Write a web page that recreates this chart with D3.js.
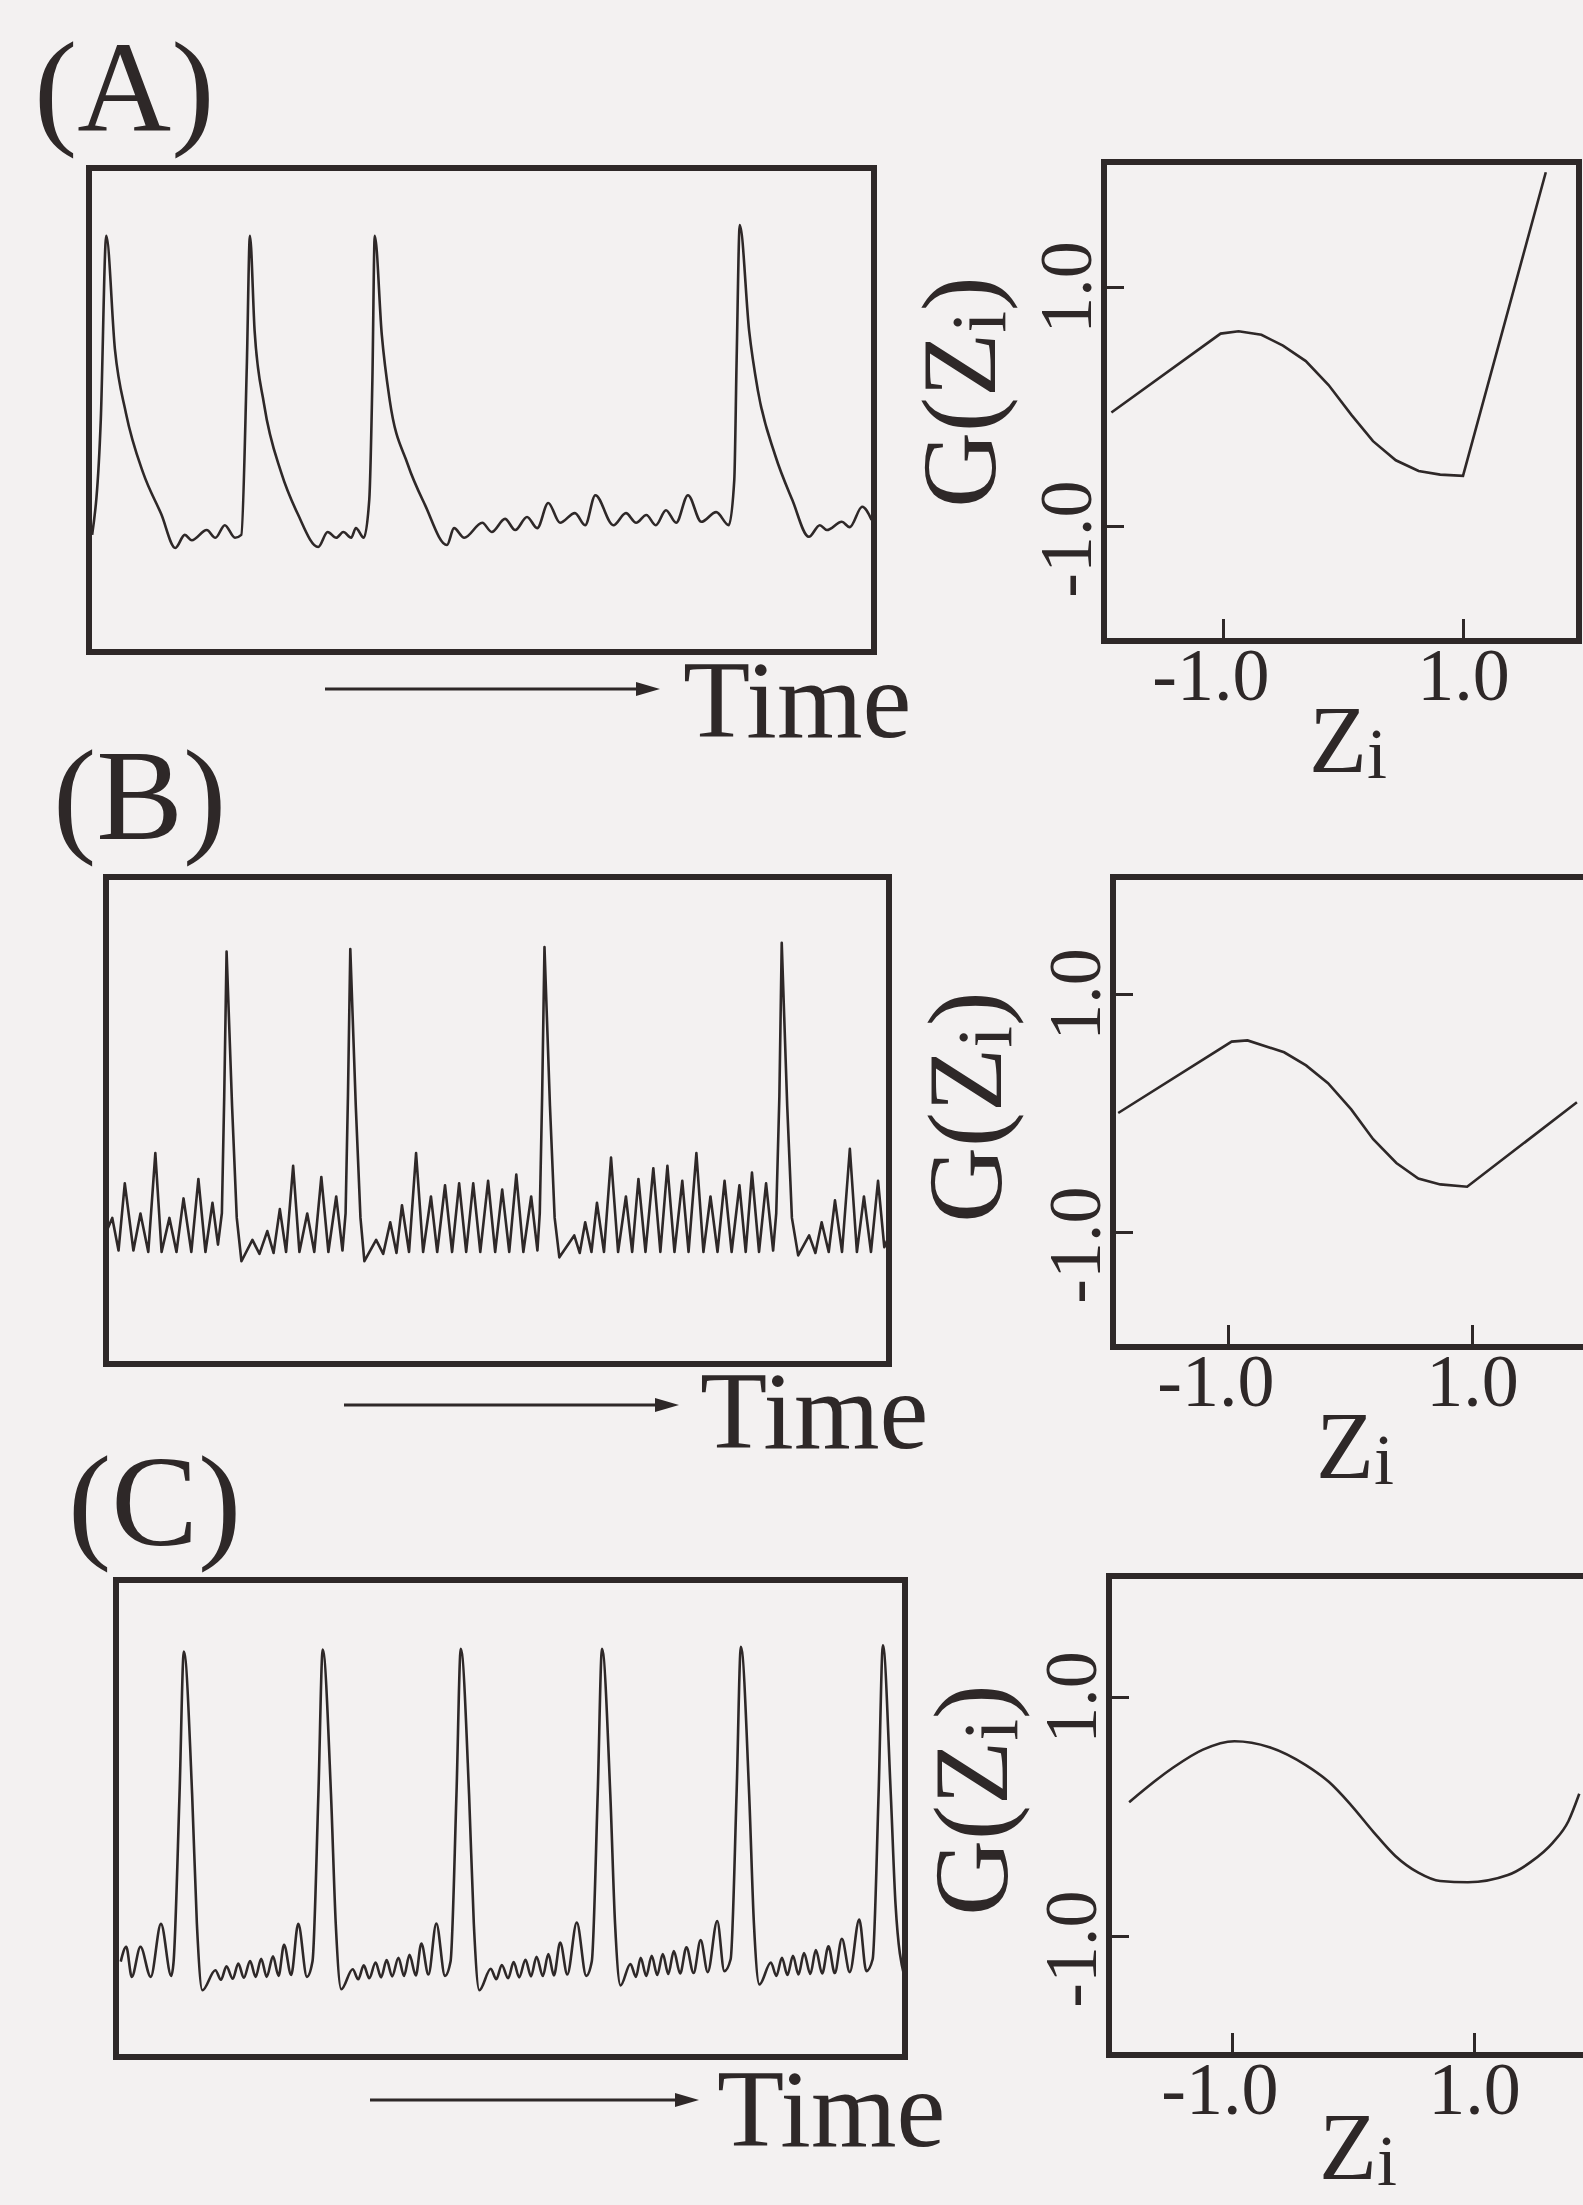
<!DOCTYPE html>
<html>
<head>
<meta charset="utf-8">
<script src="https://cdn.jsdelivr.net/npm/d3@7"></script>
<style>
  body { margin: 0; background: #f3f1f1; }
  svg { display: block; }
  text { font-family: "Liberation Serif", "Times New Roman", serif; fill: #2e2828; }
</style>
</head>
<body>
<div id="fig"></div>
<script>
// ---- data ----
const panelNames = ["(A)", "(B)", "(C)"];
const timeLabel = "Time";
const zTicks = [-1, 1];
const gTicks = [-1, 1];

// time traces: [time (0-100 across the frame), activity (0-100 bottom to top)]
const traceA = [
  [0.4,24.2],[1.5,47.9],[2.2,86.0],
  [3.3,62.6],[4.7,49.4],[6.9,37.0],[9.2,28.5],[11.0,21.5],
  [12.2,24.2],[13.1,23.1],[15.0,25.2],[16.1,23.6],[17.3,26.2],[18.6,23.6],
  [19.4,24.2],[20.1,58.9],[20.5,86.0],
  [21.1,66.3],[22.3,51.2],[24.5,37.0],[26.6,28.5],[29.2,21.7],
  [30.4,24.8],[31.5,23.6],[32.4,24.8],[33.4,23.6],[34.0,25.6],[35.0,23.6],
  [35.7,31.4],[36.1,56.2],[36.4,86.0],
  [37.3,65.5],[38.3,52.1],[40.6,38.8],[42.8,30.4],[45.6,22.1],
  [46.5,25.6],[47.8,23.6],[50.1,26.7],[51.3,24.8],[53.0,27.5],[54.3,25.2],[55.8,27.9],[57.1,25.6],
  [58.5,30.8],[60.0,26.7],[61.9,28.7],[63.2,26.2],[64.5,32.4],[66.8,26.2],[68.4,28.7],[69.7,26.7],
  [71.0,28.3],[72.2,26.2],[73.5,29.3],[74.8,26.7],[76.3,32.4],[78.0,26.9],[79.9,28.9],[81.5,26.2],
  [82.2,35.5],[82.5,60.3],[82.9,88.2],
  [84.1,66.3],[85.2,54.1],[87.4,40.7],[89.6,31.4],[91.7,23.8],
  [93.1,26.2],[94.0,25.2],[95.9,26.9],[96.9,25.8],[98.5,30.0],[99.7,27.3]
];

const traceB = [
  [0.0,27.0],[0.8,30.0],[1.6,23.3],[2.4,37.1],[3.5,23.3],[4.4,30.9],[5.4,23.0],[6.3,43.3],
  [7.1,23.0],[8.1,30.0],[9.0,23.0],[9.9,34.0],[10.9,23.0],[11.8,38.0],[12.7,23.0],[13.6,33.1],[14.3,24.5],
  [14.8,31.0],[15.1,55.0],[15.4,84.7],[16.1,53.0],[16.7,30.0],[17.3,21.1],
  [18.7,25.5],[19.6,22.6],[20.6,27.3],[21.4,22.8],[22.2,31.8],[23.0,23.0],[23.9,40.7],[24.7,23.0],
  [25.7,30.9],[26.6,23.0],[27.5,38.4],[28.4,23.0],[29.4,34.4],[30.2,23.3],
  [30.6,31.0],[30.9,55.0],[31.2,85.2],[31.9,53.0],[32.5,30.0],[33.0,21.1],
  [34.5,25.5],[35.4,22.6],[36.3,29.1],[37.1,22.8],[37.8,32.6],[38.7,23.0],[39.6,43.3],[40.5,23.0],
  [41.5,34.4],[42.3,23.0],[43.3,36.7],[44.2,23.0],[45.1,37.1],[46.0,23.0],[46.9,37.1],[47.8,23.0],
  [48.8,37.6],[49.7,23.0],[50.6,35.8],[51.5,23.0],[52.4,38.9],[53.3,23.0],[54.3,34.4],[55.1,23.3],
  [55.4,31.0],[55.7,55.0],[56.0,85.6],[56.7,53.0],[57.3,30.0],[57.9,21.9],
  [59.8,26.4],[60.5,22.8],[61.2,29.1],[62.0,23.0],[62.7,33.1],[63.6,23.0],[64.5,42.4],[65.4,23.0],
  [66.4,34.4],[67.2,23.0],[68.0,38.0],[68.9,23.0],[69.9,40.2],[70.8,23.0],[71.7,40.7],[72.6,23.0],
  [73.6,37.6],[74.4,23.0],[75.4,43.3],[76.3,23.0],[77.2,34.4],[78.1,23.0],[79.0,37.6],[79.9,23.0],
  [80.9,36.7],[81.7,23.0],[82.5,39.3],[83.4,23.0],[84.3,37.1],[85.2,23.3],
  [85.6,31.0],[86.0,55.0],[86.3,86.5],[87.0,53.0],[87.6,30.0],[88.4,22.3],
  [89.8,26.4],[90.6,22.8],[91.4,29.1],[92.3,23.0],[93.1,33.6],[94.0,23.0],[95.0,44.2],[95.9,23.0],
  [96.8,34.4],[97.7,23.0],[98.6,37.6],[99.4,24.0],[99.8,25.5]
];

const traceC = [
  [0.6,20.0],[1.3,23.1],[2.0,16.8],[3.1,23.1],[4.4,16.8],[5.7,27.9],[7.0,17.0],
  [7.3,20.0],[8.05,55.0],[8.6,85.0],
  [9.65,55.0],[10.25,28.0],[10.95,14.0],
  [12.6,18.2],[13.3,16.2],[14.0,19.0],[14.8,16.4],[15.5,19.6],[16.2,16.6],[17.0,20.1],[17.7,16.8],
  [18.4,20.6],[19.1,16.8],[19.9,21.1],[20.6,17.0],[21.3,23.5],[22.2,17.2],[23.1,27.9],[24.2,16.8],
  [24.9,20.0],[25.65,55.0],[26.2,85.4],
  [27.25,55.0],[27.85,28.0],[28.55,14.2],
  [30.0,18.4],[30.7,16.3],[31.4,19.2],[32.1,16.5],[32.9,19.8],[33.6,16.7],[34.3,20.3],[35.0,16.9],
  [35.8,20.8],[36.5,17.0],[37.2,21.4],[38.0,17.1],[38.7,23.8],[39.6,17.3],[40.6,28.0],[41.7,17.0],
  [42.4,20.0],[43.15,55.0],[43.7,85.6],
  [44.75,55.0],[45.35,28.0],[46.05,14.0],
  [47.5,18.5],[48.2,16.3],[48.9,19.3],[49.7,16.5],[50.4,19.9],[51.1,16.7],[51.9,20.4],[52.6,16.9],
  [53.3,21.0],[54.1,17.0],[54.8,21.6],[55.5,17.1],[56.3,24.0],[57.2,17.3],[58.4,28.2],[59.6,17.0],
  [60.3,20.0],[61.05,55.0],[61.6,85.6],
  [62.65,55.0],[63.25,28.0],[63.95,15.0],
  [65.2,19.5],[65.9,16.8],[66.5,20.8],[67.2,17.0],[67.9,21.2],[68.6,17.2],[69.3,21.6],[70.0,17.4],
  [70.7,22.2],[71.5,17.5],[72.3,23.0],[73.2,17.6],[74.1,24.5],[75.0,17.8],[76.2,28.5],[77.1,18.0],
  [77.9,20.5],[78.65,55.0],[79.2,86.0],
  [80.25,55.0],[80.85,28.0],[81.55,15.2],
  [83.0,19.8],[83.7,17.0],[84.4,20.8],[85.1,17.2],[85.8,21.2],[86.5,17.3],[87.2,21.8],[88.0,17.4],
  [88.7,22.4],[89.5,17.5],[90.3,23.2],[91.1,17.6],[92.0,24.8],[93.0,17.8],[94.2,28.8],[95.1,18.0],
  [95.9,20.5],[96.65,55.0],[97.2,86.3],
  [98.2,55.0],[98.8,32.0],[99.9,17.0]
];

// output functions G(Zi): [Zi, G]
const gCurveA = [
  [-1.93,-0.05],[-1.02,0.61],[-0.87,0.63],[-0.68,0.60],[-0.50,0.51],[-0.31,0.38],[-0.12,0.18],
  [0.07,-0.07],[0.25,-0.29],[0.44,-0.45],[0.63,-0.54],[0.81,-0.57],[1.00,-0.58],[1.69,1.96]
];
const gCurveB = [
  [-1.90,0.00],[-0.97,0.60],[-0.84,0.61],[-0.54,0.51],[-0.36,0.40],[-0.18,0.25],[0.01,0.03],
  [0.19,-0.22],[0.38,-0.42],[0.56,-0.55],[0.74,-0.60],[0.96,-0.62],[1.86,0.09]
];
const gCurveC = [
  [-1.85,0.12],[-1.50,0.40],[-1.24,0.56],[-0.98,0.63],[-0.69,0.58],[-0.39,0.43],[-0.20,0.29],
  [-0.02,0.10],[0.17,-0.13],[0.35,-0.33],[0.54,-0.47],[0.72,-0.54],[0.95,-0.55],[1.28,-0.49],
  [1.47,-0.38],[1.65,-0.22],[1.78,-0.04],[1.87,0.19]
];

// ---- layout ----
const ink = "#2e2828";
const W = 1583, H = 2205;

const rows = [
  { name: panelNames[0], trace: traceA, traceCurve: d3.curveMonotoneX, g: gCurveA, gCurve: d3.curveLinear,
    tag: [34, 131], box: [89, 168, 874, 652], arrow: [325, 660, 689], time: [683, 737],
    gbox: [1104, 162, 1579, 641], zpx: [1223, 1463], gpx: [526, 287], gLab: [995, 392], zLab: 772, closed: true },
  { name: panelNames[1], trace: traceB, traceCurve: d3.curveLinear, g: gCurveB, gCurve: d3.curveLinear,
    tag: [53, 839], box: [106, 877, 889, 1364], arrow: [344, 679, 1405], time: [700, 1448],
    gbox: [1113, 877, 1600, 1347], zpx: [1228, 1472], gpx: [1232, 994], gLab: [1001, 1107], zLab: 1478, closed: false },
  { name: panelNames[2], trace: traceC, traceCurve: d3.curveMonotoneX, g: gCurveC, gCurve: d3.curveMonotoneX,
    tag: [68, 1545], box: [116, 1580, 905, 2057], arrow: [370, 699, 2100], time: [717, 2146],
    gbox: [1109, 1576, 1600, 2055], zpx: [1232, 1474], gpx: [1936, 1697], gLab: [1007, 1800], zLab: 2179, closed: false }
];

const svg = d3.select("#fig")
  .append("svg")
  .attr("width", W)
  .attr("height", H);

svg.append("rect")
  .attr("width", W)
  .attr("height", H)
  .attr("fill", "#f3f1f1");

rows.forEach(function (r) {
  // panel tag
  svg.append("text")
    .attr("x", r.tag[0])
    .attr("y", r.tag[1])
    .attr("font-size", 130)
    .text(r.name);

  // ---- time trace ----
  const [x0, y0, x1, y1] = r.box;
  const x = d3.scaleLinear().domain([0, 100]).range([x0, x1]);
  const y = d3.scaleLinear().domain([0, 100]).range([y1, y0]);

  svg.append("path")
    .datum(r.trace)
    .attr("fill", "none")
    .attr("stroke", ink)
    .attr("stroke-width", 2.6)
    .attr("stroke-linejoin", "round")
    .attr("d", d3.line()
      .x(d => x(d[0]))
      .y(d => y(d[1]))
      .curve(r.traceCurve));

  svg.append("rect")
    .attr("x", x0).attr("y", y0)
    .attr("width", x1 - x0).attr("height", y1 - y0)
    .attr("fill", "none")
    .attr("stroke", ink)
    .attr("stroke-width", 6);

  // time arrow
  const [ax0, ax1, ay] = r.arrow;
  svg.append("line")
    .attr("x1", ax0).attr("x2", ax1 - 20)
    .attr("y1", ay).attr("y2", ay)
    .attr("stroke", ink)
    .attr("stroke-width", 3);
  svg.append("path")
    .attr("d", `M${ax1},${ay} L${ax1 - 24},${ay - 7} L${ax1 - 24},${ay + 7} Z`)
    .attr("fill", ink);

  svg.append("text")
    .attr("x", r.time[0])
    .attr("y", r.time[1])
    .attr("font-size", 110)
    .text(timeLabel);

  // ---- G(Zi) panel ----
  const [gx0, gy0, gx1, gy1] = r.gbox;
  const zx = d3.scaleLinear().domain([-1, 1]).range(r.zpx);
  const gy = d3.scaleLinear().domain([-1, 1]).range(r.gpx);

  svg.append("path")
    .datum(r.g)
    .attr("fill", "none")
    .attr("stroke", ink)
    .attr("stroke-width", 2.6)
    .attr("d", d3.line()
      .x(d => zx(d[0]))
      .y(d => gy(d[1]))
      .curve(r.gCurve));

  const frame = r.closed
    ? `M${gx0},${gy0} H${gx1} V${gy1} H${gx0} Z`
    : `M${gx1},${gy0} H${gx0} V${gy1} H${gx1}`;
  svg.append("path")
    .attr("d", frame)
    .attr("fill", "none")
    .attr("stroke", ink)
    .attr("stroke-width", 6);

  const fmt = d => d.toFixed(1);

  // bottom axis, ticks pointing into the frame
  svg.append("g")
    .attr("transform", `translate(0, ${gy1})`)
    .attr("color", ink)
    .call(d3.axisBottom(zx).tickValues(zTicks).tickSize(-22).tickFormat(fmt))
    .call(g => g.select(".domain").remove())
    .call(g => g.selectAll(".tick line").attr("stroke-width", 3))
    .call(g => g.selectAll(".tick text")
      .attr("font-size", 74)
      .attr("y", 59)
      .attr("dy", null)
      .attr("dx", d => d < 0 ? "-0.17em" : null));

  // left axis, rotated labels
  svg.append("g")
    .attr("transform", `translate(${gx0}, 0)`)
    .attr("color", ink)
    .call(d3.axisLeft(gy).tickValues(gTicks).tickSize(-20).tickFormat(fmt))
    .call(g => g.select(".domain").remove())
    .call(g => g.selectAll(".tick line").attr("stroke-width", 3))
    .call(g => g.selectAll(".tick text")
      .attr("font-size", 74)
      .attr("x", null)
      .attr("dy", null)
      .attr("text-anchor", "middle")
      .attr("transform", "translate(-13,0) rotate(-90)")
      .attr("dx", d => d < 0 ? "-0.17em" : null));

  // axis titles
  const zt = svg.append("text")
    .attr("x", zx(0) + 5)
    .attr("y", r.zLab)
    .attr("text-anchor", "middle")
    .attr("font-size", 95);
  zt.append("tspan").text("Z");
  zt.append("tspan").attr("font-size", 72).attr("dy", 6).text("i");

  const gt = svg.append("text")
    .attr("transform", `translate(${r.gLab[0]}, ${r.gLab[1]}) rotate(-90)`)
    .attr("text-anchor", "middle")
    .attr("font-size", 105);
  gt.append("tspan").text("G(Z");
  gt.append("tspan").attr("font-size", 78).attr("dy", 10).text("i");
  gt.append("tspan").attr("dy", -10).text(")");
});
</script>
</body>
</html>
